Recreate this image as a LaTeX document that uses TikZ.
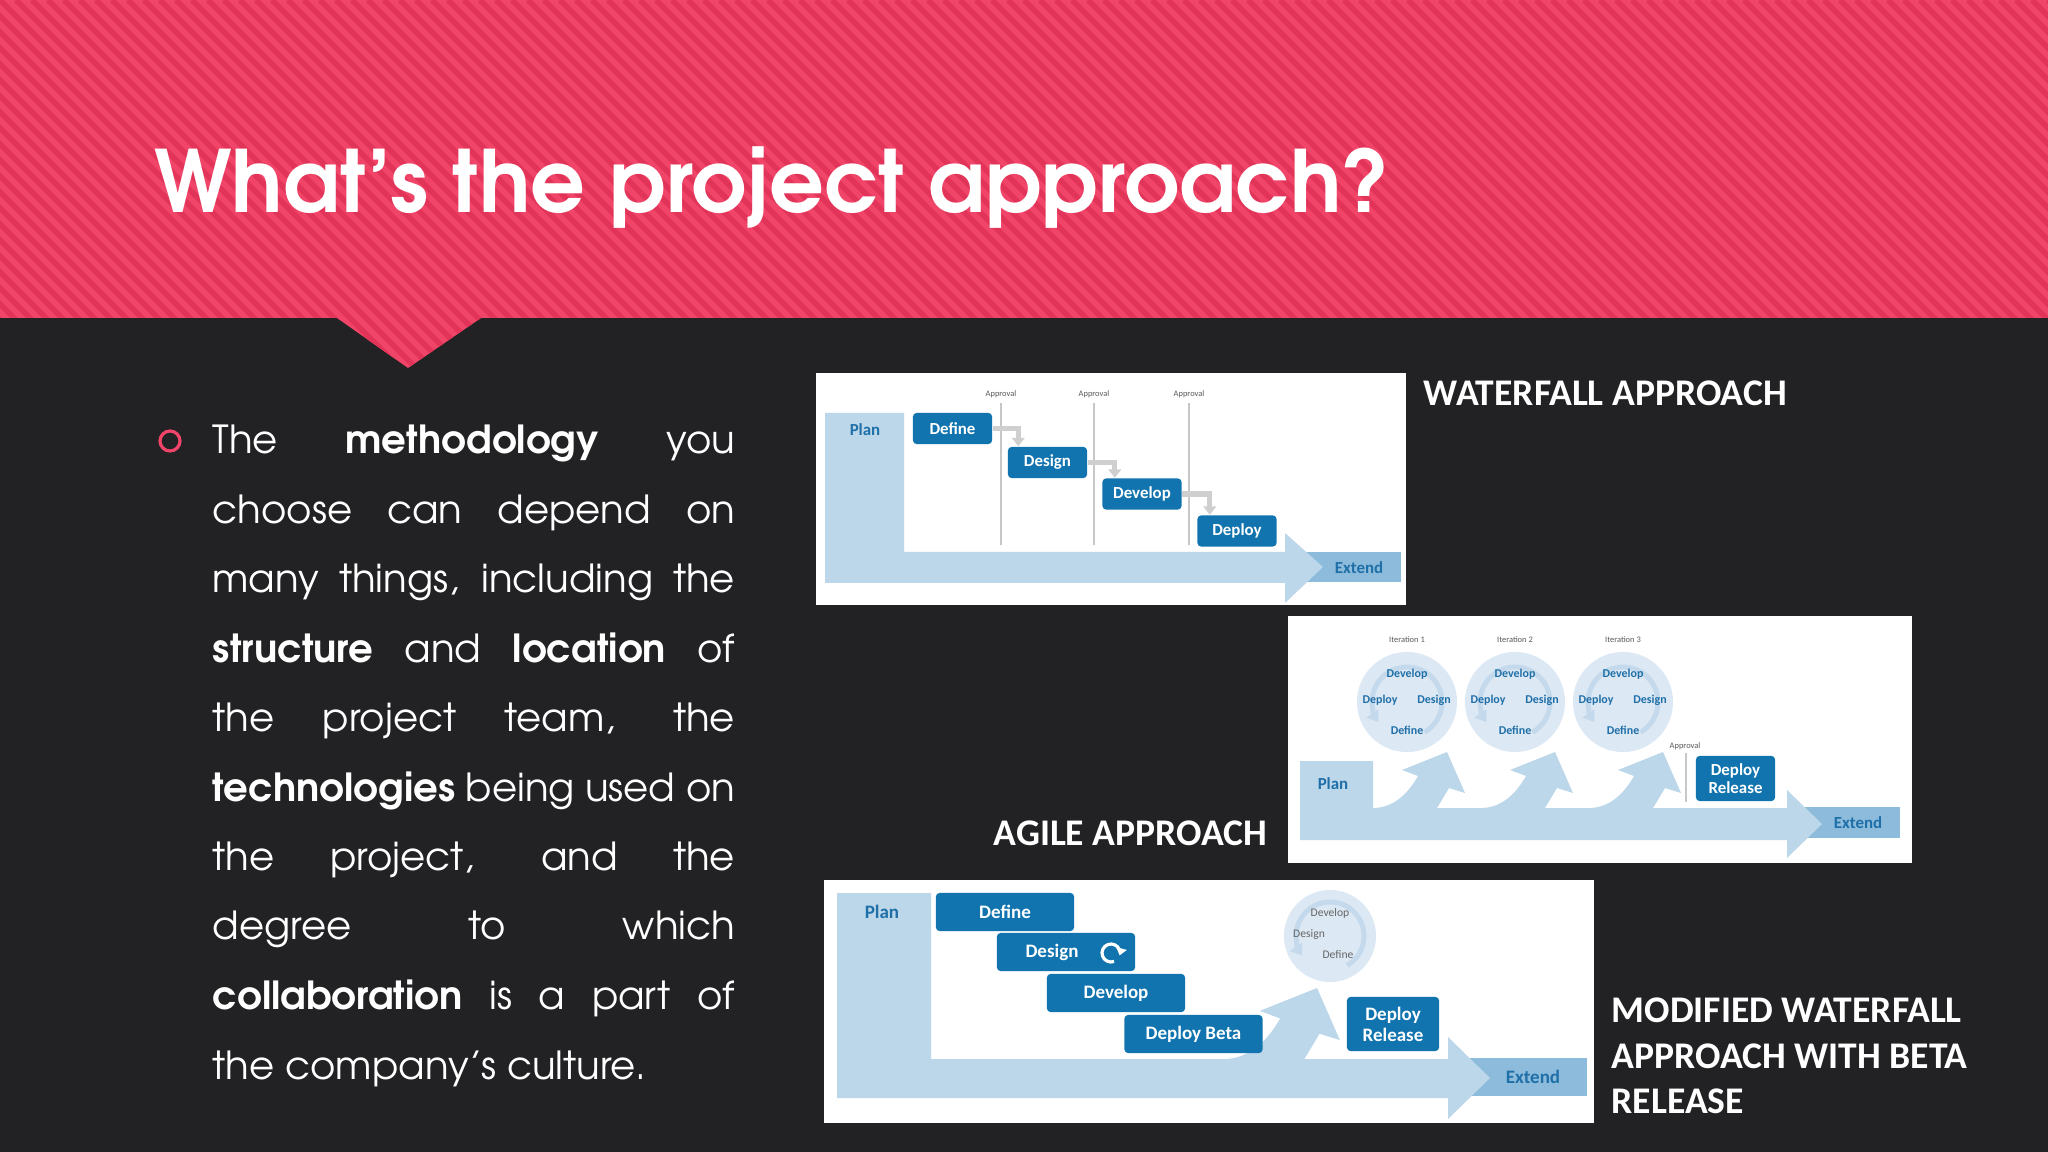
\documentclass[tikz,border=0pt]{standalone}
\usepackage{fontspec}
\setmainfont{texgyreadventor}[Extension=.otf,UprightFont=*-regular,BoldFont=*-bold]
\newfontfamily\dellfont{Carlito}
\usepackage{tikz}
\usetikzlibrary{arrows.meta}

\definecolor{pinkhead}{HTML}{F04468}
\definecolor{pinkstripe}{HTML}{E23458}
\definecolor{slate}{HTML}{222224}
\definecolor{stageblue}{HTML}{1174AF}
\definecolor{barblue}{HTML}{BCD7EA}
\definecolor{extblue}{HTML}{8DBBDB}
\definecolor{labelblue}{HTML}{1F6FA8}
\definecolor{discfill}{HTML}{DCE8F3}
\definecolor{discring}{HTML}{C4D9EB}
\definecolor{flowgrey}{HTML}{CFCFCF}

\tikzset{
  slidetitle/.style={anchor=base west, text=white, inner sep=0pt,
    font=\bfseries\fontsize{24.4}{28}\selectfont},
  bodyline/.style={anchor=base west, text=white, inner sep=0pt,
    font=\fontsize{11}{13}\selectfont},
  heading/.style={anchor=base west, text=white, inner sep=0pt,
    font=\dellfont\bfseries\fontsize{10.7}{12}\selectfont},
  stage/.style={fill=stageblue, rounded corners=1pt, text=white, inner sep=0pt,
    align=center, font=\dellfont\bfseries\fontsize{4.8}{5.2}\selectfont},
  wfstage/.style={stage, minimum width=0.79cm, minimum height=0.31cm},
  mwstage/.style={stage, minimum width=1.38cm, minimum height=0.38cm,
    font=\dellfont\bfseries\fontsize{5.4}{6}\selectfont},
  barlabel/.style={text=labelblue, inner sep=0pt,
    font=\dellfont\bfseries\fontsize{4.8}{5}\selectfont},
  looptext/.style={text=labelblue, inner sep=0pt,
    font=\dellfont\bfseries\fontsize{3.4}{4}\selectfont},
  note/.style={text=black!65, inner sep=0pt,
    font=\dellfont\fontsize{2.4}{3}\selectfont},
  greynote/.style={text=black!60, inner sep=0pt,
    font=\dellfont\fontsize{3.3}{4}\selectfont},
  iterdisc/.style={circle, fill=discfill, minimum size=1cm, inner sep=0pt},
  ring/.style={discring, line width=1.4pt, -{Triangle[width=4pt,length=3pt]}},
  flow/.style={flowgrey, line width=1.5pt, -{Triangle[width=3.6pt,length=2.4pt]}},
  gate/.style={black!22, line width=0.35pt},
  stripe/.style={pinkstripe, line width=1.6pt},
  bullet/.style={pinkhead, line width=0.9pt},
  swoosh/.pic={
    \fill[barblue] (-72,62) -- (-72,56) .. controls (-52,55) and (-38,40) .. (-29,24)
      -- (-45,18) -- (0,0) -- (18,41) -- (2,36) -- (-10,56) -- (-10,62) -- cycle;
  }
}

\begin{document}
\begin{tikzpicture}[x=0.01cm,y=-0.01cm]
  \useasboundingbox (0,0) rectangle (2048,1152);
  \fill[slate] (0,0) rectangle (2048,1152);
  \fill[pinkhead] (0,0) -- (2048,0) -- (2048,318) -- (481,318) -- (408,368) -- (337,318) -- (0,318) -- cycle;
  \begin{scope}
    \clip (0,0) -- (2048,0) -- (2048,318) -- (481,318) -- (408,368) -- (337,318) -- (0,318) -- cycle;
    \foreach \s in {-26,...,130}
      \draw[stripe] (\s*16,0) -- ++(400,400);
  \end{scope}
  \node[slidetitle] (title) at (154,213) {What’s the project approach?};

  \draw[bullet] (170,441) circle[radius=10];
  \foreach \txt [count=\i] in {{The \textbf{methodology} you},{choose can depend on},
      {many things, including the},{\textbf{structure} and \textbf{location} of},
      {the project team, the},{\textbf{technologies} being used on},
      {the project, and the},{degree to which},{\textbf{collaboration} is a part of}}
    \node[bodyline] (line\i) at (212,{454+69.4*(\i-1)}) {\makebox[5.22cm][s]{\txt}};
  \node[bodyline] (line10) at (212,1079) {the company’s culture.};

  % waterfall
  \fill[white] (816,373) rectangle (1406,605);
  \fill[extblue] (1290,552) rectangle (1401,582);
  \fill[barblue] (1285,583) -- (825,583) -- (825,413) -- (904,413) -- (904,552) -- (1285,552)
    -- (1285,533) -- (1323,567) -- (1285,603) -- cycle;
  \foreach \gx [count=\i] in {1001,1094,1189} {
    \draw[gate] (\gx,403) -- (\gx,545);
    \node[note] (appr\i) at (\gx,394) {Approval};
  }
  \node[barlabel] (plan1) at (865,430) {Plan};
  \node[wfstage] (define1) at (952.5,428.5) {Define};
  \node[wfstage] (design1) at (1047.5,462.5) {Design};
  \node[wfstage] (develop1) at (1142,494) {Develop};
  \node[wfstage] (deploy1) at (1237,531) {Deploy};
  \node[barlabel] (extend1) at (1359,568) {Extend};
  \draw[flow] (define1.east) -| ([xshift=0.11cm]design1.north west);
  \draw[flow] (design1.east) -| ([xshift=0.13cm]develop1.north west);
  \draw[flow] (develop1.east) -| ([xshift=0.13cm]deploy1.north west);
  \node[heading] (wfhead) at (1423,406) {WATERFALL APPROACH};

  % agile
  \fill[white] (1288,616) rectangle (1912,863);
  \fill[extblue] (1795,807) rectangle (1900,838);
  \foreach \cx [count=\i] in {1407,1515,1623} {
    \node[iterdisc] (iter\i) at (\cx,702) {};
    \draw[ring] (\cx,702) ++(60:35) arc[start angle=60, end angle=-215, radius=35];
    \node[note] (itl\i) at (\cx,640) {Iteration \i};
    \node[looptext] (dev\i) at (\cx,674) {Develop};
    \node[looptext] (dep\i) at (\cx-27,700) {Deploy};
    \node[looptext] (des\i) at (\cx+27,700) {Design};
    \node[looptext] (def\i) at (\cx,730) {Define};
    \pic at (\cx+40,752) {swoosh};
  }
  \fill[barblue] (1787,840) -- (1300,840) -- (1300,761) -- (1373,761) -- (1373,808) -- (1787,808)
    -- (1787,790) -- (1822,824) -- (1787,858) -- cycle;
  \draw[gate] (1686,753) -- (1686,802);
  \node[note] (appr4) at (1685,746) {Approval};
  \node[stage, minimum width=0.79cm, minimum height=0.45cm] (release2) at (1735.5,778.5) {Deploy\\Release};
  \node[barlabel] (plan2) at (1333,784) {Plan};
  \node[barlabel] (extend2) at (1858,823) {Extend};
  \node[heading] (aghead) at (993,845) {AGILE APPROACH};

  % modified waterfall
  \fill[white] (824,880) rectangle (1594,1123);
  \fill[extblue] (1455,1058) rectangle (1587,1096);
  \node[iterdisc, minimum size=0.92cm] (iter4) at (1330,936) {};
  \draw[ring] (1330,936) ++(60:34) arc[start angle=60, end angle=-215, radius=34];
  \node[greynote] (dev4) at (1330,913) {Develop};
  \node[greynote] (des4) at (1309,935) {Design};
  \node[greynote] (def4) at (1338,955) {Define};
  \pic[scale=1.27] at (1317,988) {swoosh};
  \fill[barblue] (1448,1098) -- (837,1098) -- (837,893) -- (931,893) -- (931,1059) -- (1448,1059)
    -- (1448,1037) -- (1490,1078) -- (1448,1119) -- cycle;
  \node[barlabel, font=\dellfont\bfseries\fontsize{5.4}{6}\selectfont] (plan3) at (882,912) {Plan};
  \node[mwstage] (define3) at (1005,912) {Define};
  \node[mwstage] (design3) at (1066,952) {Design\hspace*{0.28cm}};
  \draw[white, line width=0.9pt, -{Triangle[width=3pt,length=2pt]}] (1111,953) ++(70:9)
    arc[start angle=70, end angle=375, radius=9];
  \node[mwstage] (develop3) at (1116,993) {Develop};
  \node[mwstage] (beta3) at (1193.5,1034) {Deploy Beta};
  \node[stage, minimum width=0.92cm, minimum height=0.54cm,
    font=\dellfont\bfseries\fontsize{5.4}{6}\selectfont] (release3) at (1393,1024) {Deploy\\Release};
  \node[barlabel, font=\dellfont\bfseries\fontsize{5.4}{6}\selectfont] (extend3) at (1533,1077) {Extend};
  \node[heading] (mwhead1) at (1611,1022) {MODIFIED WATERFALL};
  \node[heading] (mwhead2) at (1611,1068) {APPROACH WITH BETA};
  \node[heading] (mwhead3) at (1611,1113) {RELEASE};
\end{tikzpicture}
\end{document}
